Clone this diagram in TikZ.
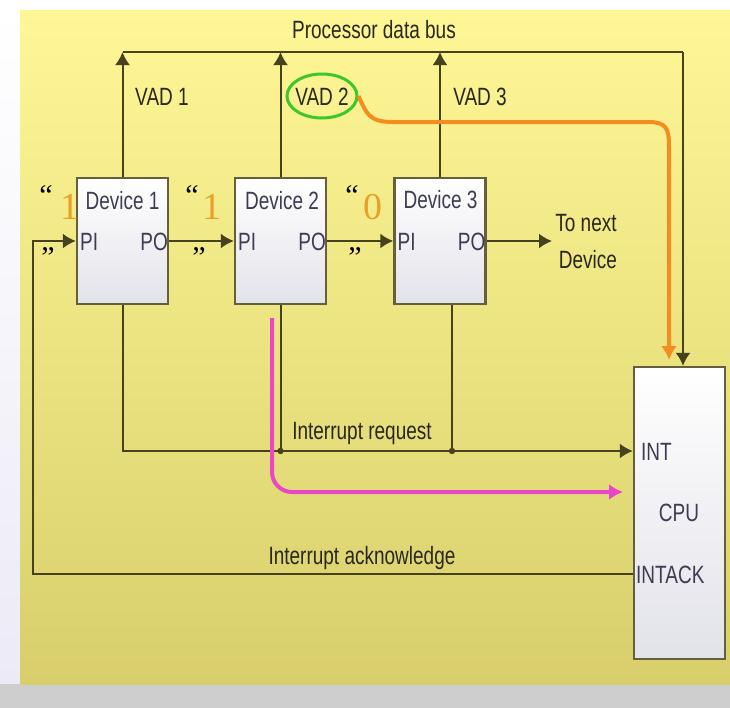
\documentclass[tikz,border=0pt]{standalone}
\usepackage{fontspec}
\setmainfont{Liberation Sans}
\newfontfamily\nf[FakeStretch=0.76]{Liberation Sans}
\newfontfamily\serifnum{Liberation Serif}
\usetikzlibrary{arrows.meta,calc,shapes.geometric}
\definecolor{wirec}{RGB}{70,66,30}
\definecolor{boxc}{RGB}{100,96,60}
\definecolor{boxbot}{RGB}{226,226,234}
\definecolor{txtc}{RGB}{40,40,30}
\definecolor{boxtxt}{RGB}{60,60,82}
\definecolor{digitc}{RGB}{232,160,40}
\definecolor{orangec}{RGB}{245,140,30}
\definecolor{magc}{RGB}{232,72,200}
\definecolor{greenc}{RGB}{60,200,40}
\definecolor{ytop}{RGB}{255,247,150}
\definecolor{ymid}{RGB}{250,240,138}
\definecolor{ybot}{RGB}{216,206,108}
\definecolor{greyb}{RGB}{206,206,206}
\definecolor{lav}{RGB}{236,234,246}
\begin{document}
\begin{tikzpicture}[x=0.5pt,y=-0.5pt,
  wire/.style={draw=wirec,line width=1pt},
  arr/.style={-{Latex[length=6.5pt,width=7.5pt]}},
  devbox/.style={draw=boxc,line width=1.2pt,top color=white,bottom color=boxbot,
     minimum width=45.5pt,minimum height=63pt,inner sep=0pt},
  lbl/.style={font=\nf\fontsize{12.5}{13}\selectfont,text=txtc,inner sep=0pt,
     text height=9pt,text depth=0pt},
  blbl/.style={lbl,text=boxtxt},
  digit/.style={font=\serifnum\fontsize{19}{19}\selectfont,text=digitc,inner sep=0pt,anchor=base},
  quo/.style={font=\serifnum\fontsize{15}{15}\selectfont,text=black,inner sep=0pt,anchor=base}
]
\useasboundingbox (0,0) rectangle (730,708);
% background
\fill[white] (0,0) rectangle (730,708);
\shade[top color=white,bottom color=lav] (0,10) rectangle (20,684);
\fill[greyb] (0,684) rectangle (730,708);
\shade[top color=ytop,middle color=ymid,bottom color=ybot] (20,10) rectangle (730,684);

% boxes
\node[devbox] (d1) at (122.5,241) {};
\node[devbox] (d2) at (280.5,241) {};
\node[devbox] (d3) at (440,241) {};
\node[devbox,minimum height=146pt] (cpu) at (679.5,513) {};

% box texts
\node[blbl] (d1t) at (122.5,200) {Device 1};
\node[blbl] (d2t) at (282,200) {Device 2};
\node[blbl] (d3t) at (440.5,199) {Device 3};
\node[blbl,anchor=west] (d1pi) at ($(d1.west)+(4,0)$) {PI};
\node[blbl,anchor=east] (d1po) at ($(d1.east)+(-1,0)$) {PO};
\node[blbl,anchor=west] (d2pi) at ($(d2.west)+(4,0)$) {PI};
\node[blbl,anchor=east] (d2po) at ($(d2.east)+(-1,0)$) {PO};
\node[blbl,anchor=west] (d3pi) at ($(d3.west)+(4,0)$) {PI};
\node[blbl,anchor=east] (d3po) at ($(d3.east)+(-1,0)$) {PO};

% coordinates
\coordinate (busY) at (0,52);
\coordinate (busR) at (683,52);
\coordinate (ackY) at (0,574);
\coordinate (leftX) at (33,0);
\coordinate (intY) at (0,451);
\coordinate (nextpt) at (552,241);
\coordinate (d3drop) at ($(d3.south)+(12,0)$);

\node[blbl,anchor=west] (cint) at ($(cpu.west |- intY)+(8,0)$) {INT};
\node[blbl] (ccpu) at (679,512) {CPU};
\node[blbl,anchor=west] (cack) at ($(cpu.west |- ackY)+(3,0)$) {INTACK};

% labels
\node[lbl] (bus) at (374,29) {Processor data bus};
\node[lbl] (v1) at (162,96) {VAD 1};
\node[lbl] (v2) at (322,96) {VAD 2};
\node[lbl] (v3) at (480,96) {VAD 3};
\node[lbl] (nx1) at (586,222) {To next};
\node[lbl] (nx2) at (588,259) {Device};
\node[lbl] (ireq) at (362,430) {Interrupt request};
\node[lbl] (iack) at (362,555) {Interrupt acknowledge};

% quote digits
\node[quo] (q1a) at (46,205) {“};
\node[digit] (n1) at (70,219) {1};
\node[quo] (q1b) at (48,267) {”};
\node[quo] (q2a) at (192,205) {“};
\node[digit] (n2) at (212,219) {1};
\node[quo] (q2b) at (199,267) {”};
\node[quo] (q3a) at (352,205) {“};
\node[digit] (n3) at (373,219) {0};
\node[quo] (q3b) at (355,267) {”};

% bus
\draw[wire] (d1.north |- busY) -- (busR);
\draw[wire,arr] (busR) -- (busR |- cpu.north);
\draw[wire,arr] (d1.north) -- (d1.north |- busY);
\draw[wire,arr] (d2.north) -- (d2.north |- busY);
\draw[wire,arr] (d3.north) -- (d3.north |- busY);

% daisy chain
\draw[wire,arr] (cpu.west |- ackY) -- (leftX |- ackY) -- (leftX |- d1.west) -- (d1.west);
\draw[wire,arr] (d1.east) -- (d2.west);
\draw[wire,arr] (d2.east) -- (d3.west);
\draw[wire,arr] (d3.east) -- (nextpt);

% interrupt request
\draw[wire,arr] (d1.south) -- (d1.south |- intY) -- (cpu.west |- intY);
\draw[wire] (d2.south) -- (d2.south |- intY);
\draw[wire] (d3drop) -- (d3drop |- intY);
\fill[wirec] (d2.south |- intY) circle (1.6pt);
\fill[wirec] (d3drop |- intY) circle (1.6pt);

% annotations
\node[draw=greenc,line width=1.5pt,ellipse,minimum width=35pt,minimum height=22pt] (vc) at (322,96) {};
\coordinate (oend) at (669,360);
\draw[orangec,line width=2pt,-{Latex[length=7pt,width=8pt]}]
  (vc.east) .. controls (366,112) and (368,122) .. (392,122) -- (648,122)
  .. controls (666,122) and (669,128) .. (669,146) -- (oend);
\coordinate (mstart) at (272,318);
\coordinate (mend) at (623,492);
\draw[magc,line width=2pt,rounded corners=10pt,-{Latex[length=7pt,width=8pt]}]
  (mstart) -- (mstart |- mend) -- (mend);
\end{tikzpicture}
\end{document}
